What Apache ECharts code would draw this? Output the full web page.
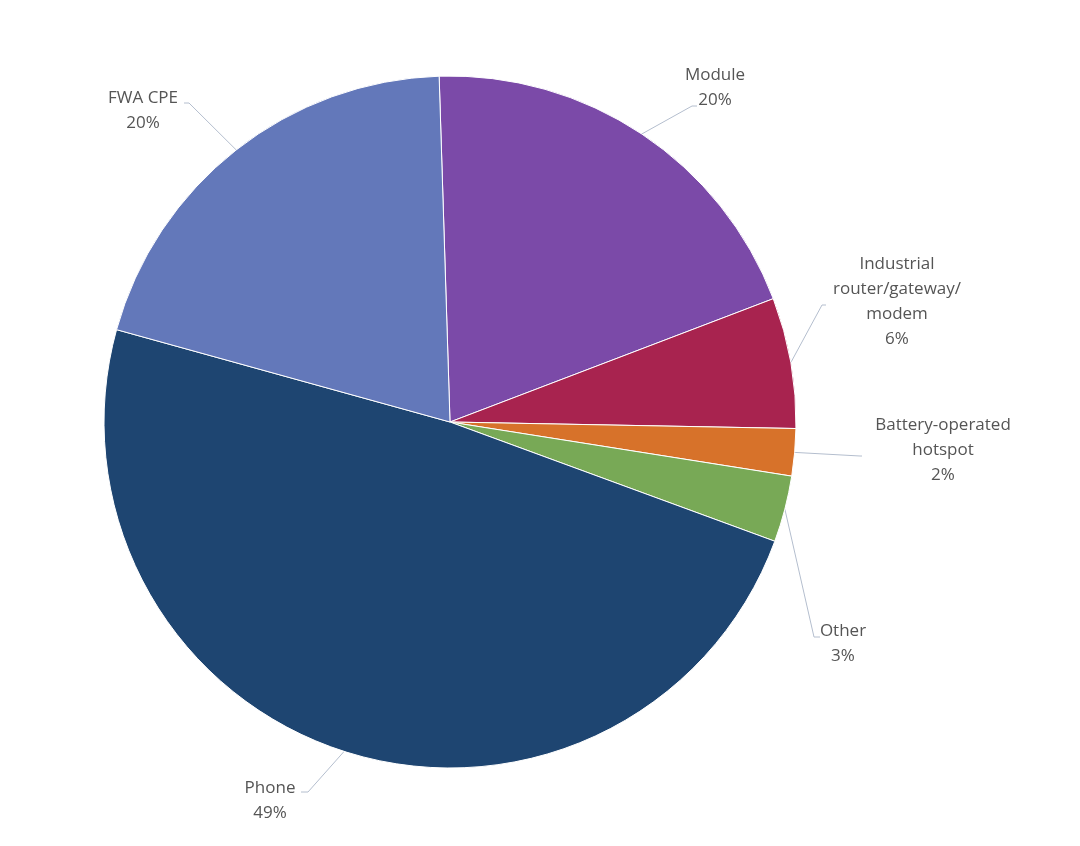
<!DOCTYPE html>
<html lang="en">
<head>
    <meta charset="utf-8">
    <title>Device share</title>
    <script src="https://cdn.jsdelivr.net/npm/echarts@6/dist/echarts.min.js"></script>
    <style>
        html, body { margin: 0; padding: 0; background: #fff; }
        #main { width: 1080px; height: 846px; }
    </style>
</head>
<body>
<div id="main"></div>
<script>
    // data, clockwise from the top
    var categories = ['Module', 'Industrial\nrouter/gateway/\nmodem', 'Battery-operated\nhotspot', 'Other', 'Phone', 'FWA CPE'];
    var shares = [19.7, 6.1, 2.2, 3.1, 48.7, 20.2];
    var sliceColors = ['#7B4AA8', '#A8234F', '#D7722A', '#78A956', '#1E4571', '#6378BA'];

    // where each label sits (centre x, top y) and the bend of its leader line
    var labelSpots = [
        { x: 715, y: 63,  bend: [692, 106], end: [697, 106] },
        { x: 897, y: 252, bend: [822, 305], end: [826, 305] },
        { x: 943, y: 413, bend: [860, 456], end: [862, 456] },
        { x: 843, y: 619, bend: [814, 637], end: [820, 637] },
        { x: 270, y: 776, bend: [308, 792], end: [301, 792] },
        { x: 143, y: 86,  bend: [189, 103], end: [184, 103] }
    ];

    var chart = echarts.init(document.getElementById('main'));
    var seriesData = categories.map(function (name, i) {
        return { name: name, value: shares[i], itemStyle: { color: sliceColors[i] } };
    });

    chart.setOption({
        animation: false,
        series: [{
            type: 'pie',
            center: [450, 422],
            radius: 346,
            startAngle: 91.8,
            clockwise: true,
            itemStyle: { borderColor: '#ffffff', borderWidth: 1 },
            label: {
                show: true,
                position: 'outside',
                color: '#555555',
                fontFamily: 'Open Sans',
                fontSize: 17,
                lineHeight: 25,
                align: 'center',
                formatter: function (p) {
                    return p.name + '\n' + Math.round(p.percent) + '%';
                }
            },
            labelLine: {
                show: true,
                length: 20,
                length2: 10,
                lineStyle: { color: '#B4BECE', width: 1 }
            },
            labelLayout: function (params) {
                var s = labelSpots[params.dataIndex];
                var start = params.labelLinePoints ? params.labelLinePoints[0] : s.bend;
                return {
                    x: s.x,
                    y: s.y,
                    align: 'center',
                    verticalAlign: 'top',
                    labelLinePoints: [start, s.bend, s.end]
                };
            },
            data: seriesData
        }]
    });
</script>
</body>
</html>
